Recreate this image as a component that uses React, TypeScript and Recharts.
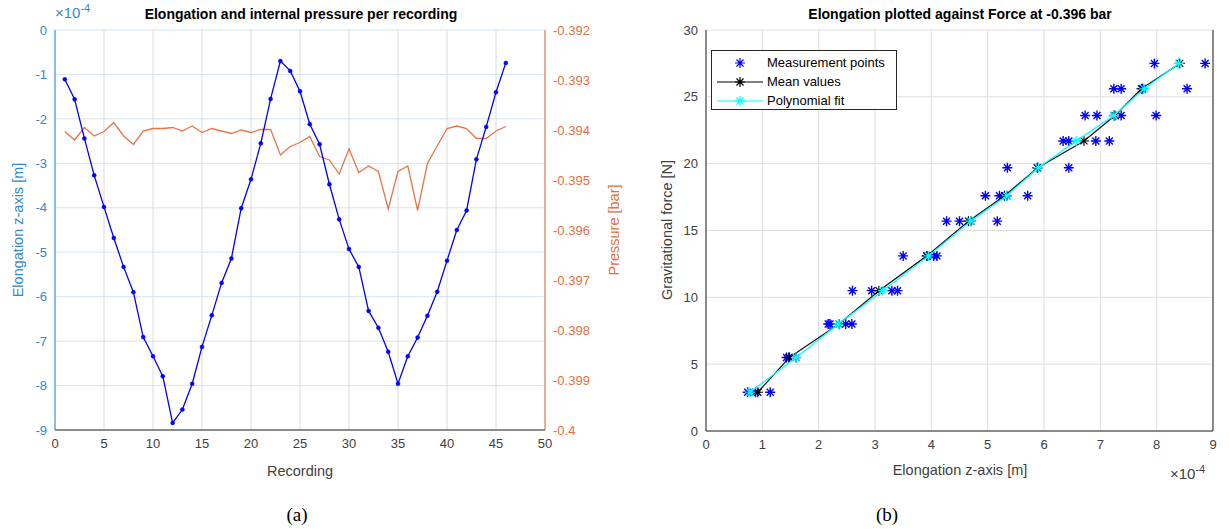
import React from "react";
import { ComposedChart, Line, Scatter, XAxis, YAxis, CartesianGrid } from "recharts";

// (a) elongation in units of 1e-4 m, pressure in bar, one value per recording
const elongation = [
  -1.11, -1.56, -2.44, -3.27, -3.98, -4.68, -5.33, -5.9, -6.91, -7.34,
  -7.79, -8.84, -8.54, -7.96, -7.13, -6.42, -5.69, -5.14, -4.01, -3.36,
  -2.55, -1.55, -0.7, -0.92, -1.38, -2.12, -2.57, -3.47, -4.26, -4.93,
  -5.33, -6.32, -6.7, -7.24, -7.96, -7.34, -6.92, -6.43, -5.89, -5.19,
  -4.5, -4.06, -2.91, -2.18, -1.4, -0.74,
];
const pressure = [
  -0.39403, -0.3942, -0.39395, -0.39412, -0.39403, -0.39385, -0.39412, -0.39429, -0.39402, -0.39397,
  -0.39397, -0.39395, -0.39402, -0.39392, -0.39405, -0.39397, -0.39402, -0.39407, -0.394, -0.39405,
  -0.39399, -0.39399, -0.3945, -0.39433, -0.39425, -0.39413, -0.39453, -0.3946, -0.39488, -0.39438,
  -0.39485, -0.39472, -0.39483, -0.39558, -0.39483, -0.39472, -0.39561, -0.39467, -0.39432, -0.39397,
  -0.39392, -0.39397, -0.39417, -0.39417, -0.39402, -0.39393,
];
const recTicks = [0, 5, 10, 15, 20, 25, 30, 35, 40, 45, 50];
const elongTicks = [-9, -8, -7, -6, -5, -4, -3, -2, -1, 0];
const pressureTicks = [-0.4, -0.399, -0.398, -0.397, -0.396, -0.395, -0.394, -0.393, -0.392];

// (b) force levels [N] and elongations [1e-4 m]
const forceLevels = [2.9, 5.5, 8.0, 10.5, 13.1, 15.7, 17.6, 19.7, 21.7, 23.6, 25.6, 27.5];
const measured = [
  [0.74, 0.88, 1.14],
  [1.43, 1.47, 1.6],
  [2.17, 2.2, 2.48, 2.59],
  [2.6, 2.94, 3.3, 3.4],
  [3.5, 3.92, 4.04, 4.1],
  [4.27, 4.5, 4.7, 5.17],
  [4.96, 5.21, 5.34, 5.71],
  [5.35, 5.88, 6.44],
  [6.34, 6.44, 6.92, 7.16],
  [6.73, 6.94, 7.24, 7.37, 7.99],
  [7.24, 7.37, 7.75, 8.54],
  [7.96, 8.86],
];
const meanElong = [0.92, 1.48, 2.36, 3.07, 3.92, 4.66, 5.3, 5.89, 6.71, 7.26, 7.73, 8.41];
const fitElong = [0.78, 1.6, 2.35, 3.14, 3.95, 4.7, 5.34, 5.9, 6.57, 7.24, 7.78, 8.39];
const elongTicksB = [0, 1, 2, 3, 4, 5, 6, 7, 8, 9];
const forceTicks = [0, 5, 10, 15, 20, 25, 30];

const FONT = '"Liberation Sans", Arial, Helvetica, sans-serif';
const AX_BLUE = "#2F8ACF";
const AX_ORANGE = "#E2703F";
const TXT = "#404040";

const lineData = elongation.map((e, i) => ({ rec: i + 1, elong: e, pres: pressure[i] }));
const measData = measured.flatMap((row, i) => row.map((x) => ({ x, y: forceLevels[i] })));
const meanData = meanElong.map((x, i) => ({ x, y: forceLevels[i] }));
const fitData = fitElong.map((x, i) => ({ x, y: forceLevels[i] }));

const star = (color: string, r = 5, w = 1.3) => (props: any) => {
  const { cx, cy } = props;
  if (cx == null || cy == null) return <g />;
  const d = r * 0.7;
  return (
    <path
      d={`M${cx - r},${cy}H${cx + r}M${cx},${cy - r}V${cy + r}M${cx - d},${cy - d}L${cx + d},${cy + d}M${cx - d},${cy + d}L${cx + d},${cy - d}`}
      stroke={color}
      strokeWidth={w}
      fill="none"
    />
  );
};

const fmtP = (v: number) => String(Number(v.toFixed(3)));

function Txt({ x, y, children, style, rot }: any) {
  return (
    <div
      style={{
        position: "absolute",
        left: x,
        top: y,
        transform: `translate(-50%, -50%)${rot ? ` rotate(${rot}deg)` : ""}`,
        whiteSpace: "nowrap",
        fontFamily: FONT,
        ...style,
      }}
    >
      {children}
    </div>
  );
}

function Exp({ color }: { color: string }) {
  return (
    <span style={{ color, fontSize: 15 }}>
      ×10<sup style={{ fontSize: 11 }}>-4</sup>
    </span>
  );
}

function LegendIcon({ color, line }: { color: string; line: boolean }) {
  const S = star(color, 5, 1.2);
  return (
    <svg width={48} height={14} style={{ display: "block" }}>
      {line && <line x1={1} y1={7} x2={47} y2={7} stroke={color} strokeWidth={1} />}
      <S cx={24} cy={7} />
    </svg>
  );
}

export default function App() {
  const tickStyle = { fontSize: 13, fontFamily: FONT };
  return (
    <div style={{ position: "absolute", left: 0, top: 0, width: 1229, height: 531, background: "#fff" }}>
      {/* (a) */}
      <div style={{ position: "absolute", left: 0, top: 0 }}>
        <ComposedChart width={640} height={480} data={lineData} margin={{ top: 30, right: 0, bottom: 0, left: 0 }}>
          <CartesianGrid vertical={false} yAxisId="l" stroke="#D4E5F3" />
          <CartesianGrid horizontal={false} yAxisId="l" stroke="#DCDCDC" />
          <XAxis
            dataKey="rec"
            type="number"
            domain={[0, 50]}
            ticks={recTicks}
            height={50}
            tickLine={false}
            tickSize={0}
            tickMargin={9}
            stroke="#262626"
            tick={{ ...tickStyle, fill: TXT }}
          />
          <XAxis xAxisId="top" orientation="top" type="number" domain={[0, 50]} height={0} tick={false} tickLine={false} stroke="#262626" />
          <YAxis
            yAxisId="l"
            type="number"
            domain={[-9, 0]}
            ticks={elongTicks}
            width={55}
            tickLine={false}
            tickSize={0}
            tickMargin={8}
            stroke={AX_BLUE}
            tick={{ ...tickStyle, fill: AX_BLUE }}
          />
          <YAxis
            yAxisId="r"
            orientation="right"
            type="number"
            domain={[-0.4, -0.392]}
            ticks={pressureTicks}
            tickFormatter={fmtP}
            width={95}
            tickLine={false}
            tickSize={0}
            tickMargin={8}
            stroke={AX_ORANGE}
            tick={{ ...tickStyle, fill: AX_ORANGE }}
          />
          <Line
            yAxisId="r"
            dataKey="pres"
            stroke="#E8744A"
            strokeWidth={1.3}
            dot={false}
            isAnimationActive={false}
          />
          <Line
            yAxisId="l"
            dataKey="elong"
            stroke="#0000FF"
            strokeWidth={1.3}
            dot={{ r: 2, fill: "#0000FF", stroke: "#0000FF", strokeWidth: 0.5 }}
            isAnimationActive={false}
          />
        </ComposedChart>
      </div>

      {/* (b) */}
      <div style={{ position: "absolute", left: 640, top: 0 }}>
        <ComposedChart width={589} height={480} margin={{ top: 30, right: 0, bottom: 0, left: 0 }}>
          <CartesianGrid stroke="#DEDEDE" yAxisId="f" />
          <XAxis
            dataKey="x"
            type="number"
            domain={[0, 9]}
            ticks={elongTicksB}
            height={49}
            tickLine={false}
            tickSize={0}
            tickMargin={9}
            stroke="#262626"
            tick={{ ...tickStyle, fill: TXT }}
          />
          <XAxis xAxisId="top" orientation="top" type="number" domain={[0, 9]} height={0} tick={false} tickLine={false} stroke="#262626" />
          <YAxis
            yAxisId="f"
            dataKey="y"
            type="number"
            domain={[0, 30]}
            ticks={forceTicks}
            width={66}
            tickLine={false}
            tickSize={0}
            tickMargin={8}
            stroke="#262626"
            tick={{ ...tickStyle, fill: TXT }}
          />
          <YAxis yAxisId="rb" orientation="right" type="number" domain={[0, 30]} width={16} tick={false} tickLine={false} stroke="#262626" />
          <Scatter yAxisId="f" data={measData} shape={star("#0000FF", 5, 1.4)} isAnimationActive={false} />
          <Scatter
            yAxisId="f"
            data={meanData}
            line={{ stroke: "#1A1A1A", strokeWidth: 1.3 }}
            lineType="joint"
            shape={star("#000000", 5, 1.1)}
            isAnimationActive={false}
          />
          <Scatter
            yAxisId="f"
            data={fitData}
            line={{ stroke: "#00FFFF", strokeWidth: 1.2 }}
            lineType="joint"
            shape={star("#00FFFF", 5, 1.2)}
            isAnimationActive={false}
          />
        </ComposedChart>
      </div>

      {/* titles and labels */}
      <Txt x={301} y={14} style={{ fontSize: 14, fontWeight: "bold", color: "#000" }}>
        Elongation and internal pressure per recording
      </Txt>
      <div style={{ position: "absolute", left: 55, top: 2, fontFamily: FONT }}>
        <Exp color={AX_BLUE} />
      </div>
      <Txt x={18} y={230} rot={-90} style={{ fontSize: 14.5, color: AX_BLUE }}>
        Elongation z-axis [m]
      </Txt>
      <Txt x={614} y={230} rot={-90} style={{ fontSize: 14.5, color: AX_ORANGE }}>
        Pressure [bar]
      </Txt>
      <Txt x={300} y={471} style={{ fontSize: 14.5, color: TXT }}>
        Recording
      </Txt>

      <Txt x={960} y={14} style={{ fontSize: 14, fontWeight: "bold", color: "#000" }}>
        Elongation plotted against Force at -0.396 bar
      </Txt>
      <Txt x={667} y={230} rot={-90} style={{ fontSize: 14.5, color: TXT }}>
        Gravitational force [N]
      </Txt>
      <Txt x={960} y={470} style={{ fontSize: 14.5, color: TXT }}>
        Elongation z-axis [m]
      </Txt>
      <div style={{ position: "absolute", left: 1170, top: 463, fontFamily: FONT }}>
        <Exp color={TXT} />
      </div>

      {/* legend */}
      <div
        style={{
          position: "absolute",
          left: 711,
          top: 50,
          width: 186,
          height: 60,
          border: "1px solid #262626",
          background: "#fff",
          fontFamily: FONT,
          fontSize: 13,
          color: "#000",
          padding: "2px 0 0 4px",
          boxSizing: "border-box",
        }}
      >
        {[
          { name: "Measurement points", color: "#0000FF", line: false },
          { name: "Mean values", color: "#000000", line: true },
          { name: "Polynomial fit", color: "#00FFFF", line: true },
        ].map((it) => (
          <div key={it.name} style={{ display: "flex", alignItems: "center", height: 19 }}>
            <LegendIcon color={it.color} line={it.line} />
            <span style={{ marginLeft: 3 }}>{it.name}</span>
          </div>
        ))}
      </div>

      {/* captions */}
      <Txt x={297} y={515} style={{ fontSize: 19, fontFamily: '"Liberation Serif", "DejaVu Serif", serif', color: "#000" }}>
        (a)
      </Txt>
      <Txt x={887} y={515} style={{ fontSize: 19, fontFamily: '"Liberation Serif", "DejaVu Serif", serif', color: "#000" }}>
        (b)
      </Txt>
    </div>
  );
}
